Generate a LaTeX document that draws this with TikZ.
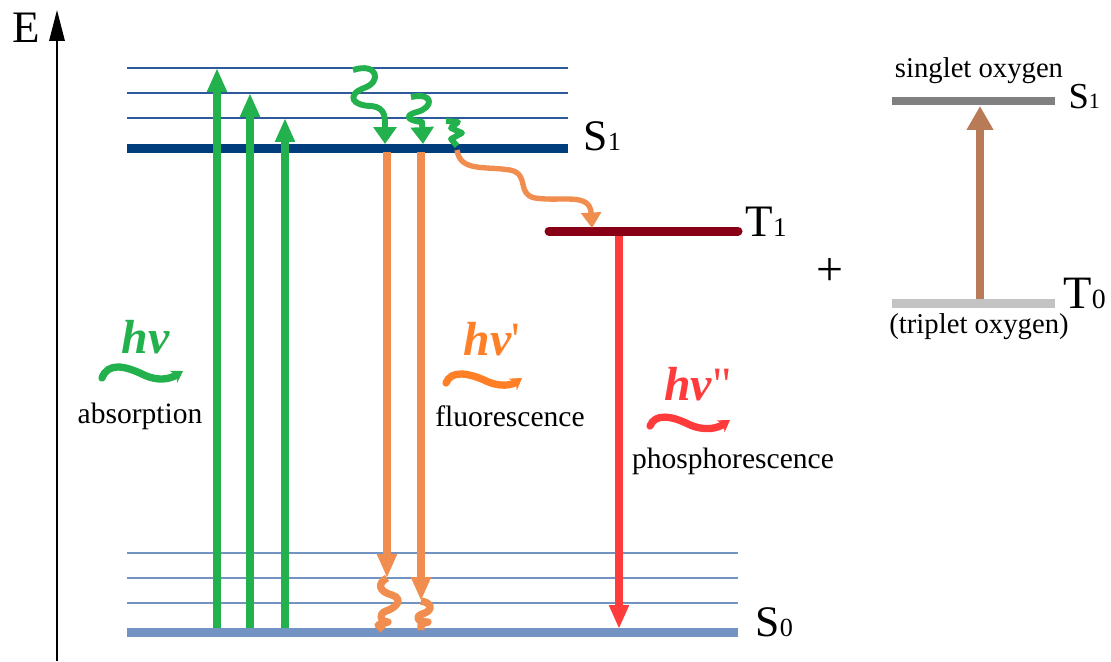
\documentclass[tikz,border=0pt]{standalone}
\usepackage{fontspec}
\setmainfont{Liberation Serif}
\usepackage{graphicx}
\usetikzlibrary{arrows.meta}
\definecolor{sonedark}{HTML}{003D7D}
\definecolor{sonevib}{HTML}{2F5A9A}
\definecolor{szerobase}{HTML}{7393C2}
\definecolor{szerovib}{HTML}{7393C2}
\definecolor{tonedark}{HTML}{880015}
\definecolor{absgreen}{HTML}{22B14C}
\definecolor{fluorange}{HTML}{F08D4F}
\definecolor{photorange}{HTML}{FF7F27}
\definecolor{phosred}{HTML}{FF3B3B}
\definecolor{oxbrown}{HTML}{B97A57}
\definecolor{oxsinglet}{HTML}{808080}
\definecolor{oxtriplet}{HTML}{C3C3C3}
\newcommand{\stlbl}[2]{#1\scalebox{0.6}{#2}}
\newcommand{\hvsym}[1]{\textbf{\textit{hν}}#1}
\tikzset{
  lvl/.style      = {line width=3.2pt},
  vib/.style      = {line width=0.7pt},
  axis/.style     = {-{Triangle[length=11pt,width=5.5pt]},line width=0.6pt},
  trans/.style    = {-{Triangle[length=8.5pt,width=6.6pt]},line width=3pt},
  relax/.style    = {line width=2.1pt,line join=round},
  relaxarr/.style = {relax,-{Triangle[length=6pt,width=8pt]}},
  isc/.style      = {line width=1.9pt,-{Triangle[length=5.5pt,width=7pt]}},
  photon/.style   = {line width=2.6pt,line cap=round,-{Stealth[length=4pt,width=5pt]}},
  txt/.style      = {inner sep=0pt,anchor=base,font=\fontsize{10.5}{12}\selectfont},
  oxtxt/.style    = {inner sep=0pt,anchor=base,font=\fontsize{10.2}{12}\selectfont},
  statelbl/.style = {inner sep=0pt,anchor=base west,font=\fontsize{15.5}{17}\selectfont},
  hvlbl/.style    = {inner sep=0pt,anchor=base,font=\fontsize{17}{18}\selectfont},
}

\begin{document}
\begin{tikzpicture}[x=0.0125cm,y=-0.0125cm]
  \useasboundingbox (0,0) rectangle (1111,661);
  % Energy axis
  \coordinate (ebot) at (57,661);
  \coordinate (etop) at (57,10);
  \draw[axis] (ebot) -- (etop);
  \node[statelbl,anchor=center,font=\fontsize{16}{17}\selectfont] (elbl) at (26,28) {E};

  % S1 manifold
  \foreach \y in {68,93,118}
    \draw[vib,sonevib] (127,\y) -- (568,\y);
  \draw[lvl,sonedark] (127,148) -- (568,148);
  \node[statelbl] (s1lbl) at (583,150) {\stlbl{S}{1}};

  % T1
  \draw[lvl,tonedark,line cap=round] (549,231) -- (738,231);
  \node[statelbl,font=\fontsize{16}{17}\selectfont] (t1lbl) at (745,236) {\stlbl{T}{1}};

  % S0 manifold
  \foreach \y in {553,578,603}
    \draw[vib,szerovib,line width=0.6pt] (127,\y) -- (738,\y);
  \draw[lvl,szerobase] (127,632) -- (738,632);
  \node[statelbl] (s0lbl) at (755,636) {\stlbl{S}{0}};

  % Absorption
  \foreach \x/\y [count=\i] in {217/68,250/93,285/118}{
    \coordinate (abot\i) at (\x,628);
    \coordinate (atop\i) at (\x,\y);
    \draw[trans,absgreen] (abot\i) -- (atop\i);
  }

  % Vibrational relaxation in S1
  \coordinate (r1s) at (353,70);
  \coordinate (r1e) at (385,144);
  \draw[relaxarr,absgreen] (r1s) .. controls (378,62) and (382,82) .. (364,88)
        .. controls (346,95) and (352,106) .. (372,106)
        .. controls (386,108) and (385,118) .. (r1e);
  \coordinate (r2s) at (411,97);
  \coordinate (r2e) at (423,144);
  \draw[relaxarr,absgreen] (r2s) .. controls (435,92) and (433,108) .. (417,112)
        .. controls (402,116) and (410,121) .. (422,122) -- (r2e);
  \coordinate (r3s) at (446,121);
  \coordinate (r3e) at (457,146);
  \draw[relax,absgreen] (r3s) -- (458,122) -- (451,128) -- (462,133)
        -- (451,139) -- (r3e);

  % Intersystem crossing
  \coordinate (iscs) at (457,150);
  \coordinate (isce) at (592,228);
  \draw[isc,fluorange] (iscs) .. controls (460,172) and (485,166) .. (510,170)
        .. controls (530,174) and (516,194) .. (535,198)
        .. controls (562,202) and (590,192) .. (isce);

  % Fluorescence
  \coordinate (f1s) at (387,152);
  \coordinate (f1e) at (387,578);
  \coordinate (f1g) at (383,630);
  \draw[trans,fluorange,line width=2.8pt] (f1s) -- (f1e);
  \draw[relax,fluorange,line width=2.6pt] (f1e) .. controls (376,584) and (380,592) .. (392,595)
        .. controls (404,599) and (396,608) .. (386,611)
        .. controls (378,614) and (380,622) .. (388,622) -- (378,625) -- (f1g);
  \coordinate (f2s) at (421,152);
  \coordinate (f2e) at (421,601);
  \coordinate (f2g) at (421,630);
  \draw[trans,fluorange,line width=2.8pt] (f2s) -- (f2e);
  \draw[relax,fluorange,line width=2.6pt] (f2e) .. controls (433,603) and (433,611) .. (422,614)
        .. controls (414,617) and (418,622) .. (428,622) -- (421,624) -- (f2g);

  % Phosphorescence
  \coordinate (p1s) at (619,236);
  \coordinate (p1e) at (619,629);
  \draw[trans,phosred] (p1s) -- (p1e);

  % Photon labels
  \node[hvlbl,text=absgreen] (hvabs) at (146,353) {\hvsym{}};
  \draw[photon,absgreen] (102,378) .. controls (108,362) and (125,366) .. (142,374)
        .. controls (158,382) and (170,379) .. (183,371);
  \node[txt] (abslbl) at (140,423) {absorption};
  \node[hvlbl,text=photorange] (hvflu) at (492,355) {\hvsym{\textquotesingle}};
  \draw[photon,photorange] (446,383) .. controls (451,370) and (468,373) .. (484,380)
        .. controls (500,388) and (512,385) .. (522,378);
  \node[txt] (flulbl) at (510,426) {fluorescence};
  \node[hvlbl,text=phosred] (hvphos) at (698,400) {\hvsym{\textquotedbl}};
  \draw[photon,phosred] (650,426) .. controls (655,413) and (672,416) .. (688,424)
        .. controls (705,432) and (718,428) .. (730,420);
  \node[txt] (phoslbl) at (733,468) {phosphorescence};

  % Oxygen
  \node[inner sep=0pt,font=\fontsize{17}{18}\selectfont] (plus) at (830,272) {+};
  \draw[lvl,oxsinglet,line width=2.9pt] (892,101) -- (1055,101);
  \draw[lvl,oxtriplet,line width=3.2pt] (892,303) -- (1055,303);
  \coordinate (oxbot) at (980,299);
  \coordinate (oxtop) at (980,106);
  \draw[trans,oxbrown,-{Triangle[length=8.5pt,width=9pt]}] (oxbot) -- (oxtop);
  \node[oxtxt] (singlbl) at (979,77) {singlet oxygen};
  \node[statelbl,font=\fontsize{13}{14}\selectfont] (os1lbl) at (1068,108) {\stlbl{S}{1}};
  \node[statelbl,font=\fontsize{16.5}{18}\selectfont] (ot0lbl) at (1063,308) {\stlbl{T}{0}};
  \node[oxtxt] (triplbl) at (979,333) {(triplet oxygen)};
\end{tikzpicture}
\end{document}
